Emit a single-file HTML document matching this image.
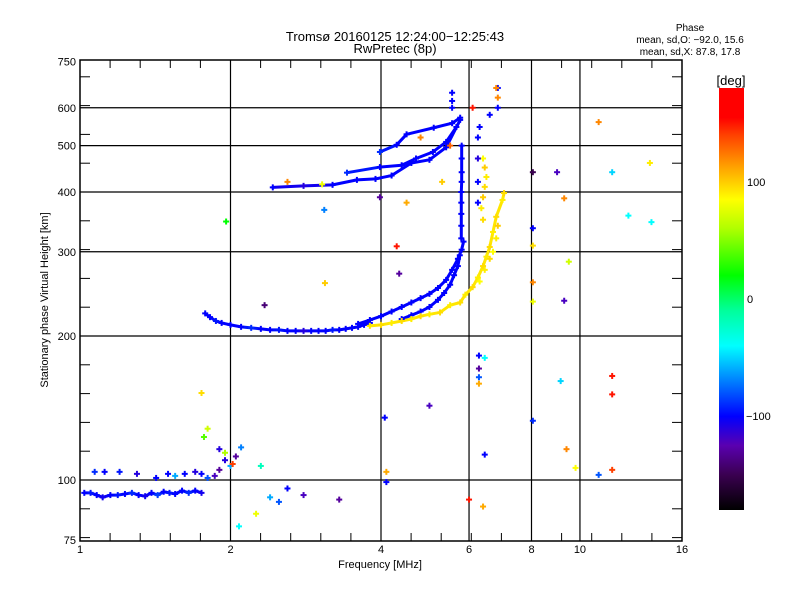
<!DOCTYPE html>
<html><head><meta charset="utf-8"><style>
body{margin:0;background:#fff}
svg{display:block;font-family:"Liberation Sans",sans-serif}
</style></head><body>
<svg id="c" width="800" height="600" viewBox="0 0 800 600">
<defs>
<linearGradient id="cb" x1="0" y1="1" x2="0" y2="0">
<stop offset="0" stop-color="#000000"/><stop offset="0.083" stop-color="#3a0050"/><stop offset="0.153" stop-color="#5a00b0"/>
<stop offset="0.222" stop-color="#0000ff"/><stop offset="0.306" stop-color="#0080ff"/><stop offset="0.389" stop-color="#00ffff"/>
<stop offset="0.472" stop-color="#00ff9c"/><stop offset="0.556" stop-color="#00ff00"/><stop offset="0.667" stop-color="#b0ff00"/>
<stop offset="0.736" stop-color="#ffff00"/><stop offset="0.806" stop-color="#ffaa00"/><stop offset="0.889" stop-color="#ff4000"/>
<stop offset="0.93" stop-color="#ff0000"/><stop offset="1" stop-color="#ff0000"/>
</linearGradient></defs>
<text x="395" y="41" font-size="13" text-anchor="middle">Tromsø 20160125 12:24:00−12:25:43</text>
<text x="395" y="53" font-size="13" text-anchor="middle">RwPretec (8p)</text>
<text x="690" y="31" font-size="10" text-anchor="middle">Phase</text>
<text x="690" y="43" font-size="10" text-anchor="middle">mean, sd,O: −92.0, 15.6</text>
<text x="690" y="55" font-size="10" text-anchor="middle">mean, sd,X:  87.8, 17.8</text>
<g id="grid"></g>
<g id="marks"></g>
<rect x="80" y="60" width="602" height="481" fill="none" stroke="#000" stroke-width="1.5"/>
<g id="ticks"></g>
<text x="380" y="568" font-size="11" text-anchor="middle">Frequency [MHz]</text>
<text transform="translate(48,300) rotate(-90)" font-size="11" text-anchor="middle">Stationary phase Virtual Height [km]</text>
<rect x="719" y="88" width="25" height="422" fill="url(#cb)"/>
<text x="731" y="85" font-size="13" text-anchor="middle">[deg]</text>
<g id="cbt"></g>
</svg>
<script>
const xTicks=[1,2,4,6,8,10,16];
const xGrid=[2,4,6,8,10];
const yTicks=[75,100,200,300,400,500,600,750];
const yGrid=[100,200,300,400,500,600];
const cbTicks=[100,0,-100];
const eLayer=[[1.02,94,-100],[1.05,94,-95],[1.08,93,-100],[1.11,92,-105],[1.15,93,-100],[1.19,93,-95],[1.23,93.5,-100],[1.27,94,-90],[1.31,93,-100],[1.35,92.5,-105],[1.39,94,-100],[1.43,93,-85],[1.47,94.5,-100],[1.51,94,-95],[1.55,93.5,-100],[1.6,95,-100],[1.65,94,-90],[1.7,95,-100],[1.75,94,-105]];
const eUpper=[[1.07,104,-90],[1.12,104,-100],[1.2,104,-95],[1.3,103,-110],[1.42,101,-100],[1.5,103,-100],[1.55,102,-60],[1.62,103,-100],[1.7,104,-110],[1.75,103,-100],[1.8,101,-80],[1.86,102,-120],[1.9,105,-130],[1.95,110,-110],[2.0,107,-60]];
const fLow=[[1.78,223,-100],[1.82,219,-100],[1.87,215,-95],[1.92,213,-100],[2.0,211,-100],[2.1,209,-100],[2.2,208,-90],[2.3,207,-100],[2.4,206,-100],[2.5,206,-95],[2.6,205,-100],[2.7,205,-100],[2.8,205,-110],[2.9,205,-100],[3.0,205,-100],[3.1,205,-100],[3.2,206,-95],[3.3,206,-100],[3.4,207,-100],[3.5,208,-100],[3.6,209,-100],[3.7,211,-100],[3.8,213,-100]];
const fO1=[[3.6,212,-100],[3.8,216,-100],[4.0,220,-100],[4.2,225,-100],[4.4,230,-100],[4.6,235,-100],[4.8,240,-100],[5.0,245,-100],[5.2,252,-100],[5.4,262,-100],[5.55,275,-100],[5.7,290,-100],[5.8,303,-100],[5.85,315,-100]];
const fO2=[[4.4,217,-100],[4.6,221,-100],[4.8,225,-100],[5.0,230,-100],[5.2,238,-100],[5.35,246,-100],[5.5,256,-100],[5.6,268,-100],[5.7,280,-100],[5.75,295,-100]];
const fVert=[[5.79,320,-100],[5.79,340,-100],[5.79,360,-100],[5.79,380,-100],[5.79,400,-100],[5.8,420,-100],[5.8,440,-100],[5.8,470,-100],[5.8,500,-100]];
const fX=[[3.8,210,90],[4.0,211,95],[4.2,213,90],[4.4,215,95],[4.6,217,90],[4.8,220,95],[5.0,222,90],[5.25,224,95],[5.5,232,90],[5.76,235,95],[5.9,244,90],[6.1,253,95],[6.25,265,90],[6.4,280,95],[6.5,293,90],[6.6,307,95],[6.7,330,90],[6.8,355,95],[7.0,385,90],[7.05,398,95]];
const fX2=[[6.3,260,85],[6.45,275,90],[6.6,290,95],[6.7,300,85],[6.8,320,90],[6.85,340,100],[6.4,350,95],[6.35,370,90],[6.4,390,100],[6.45,410,95],[6.5,430,90],[6.45,450,100],[6.4,470,85]];
const u1=[[2.43,409,-100],[2.8,412,-110],[3.2,414,-100],[3.58,424,-100],[3.9,426,-100],[4.2,433,-100],[4.6,460,-100],[5.0,467,-100],[5.4,496,-100],[5.76,566,-100]];
const u2=[[3.42,439,-90],[3.98,451,-100],[4.4,455,-100],[4.7,470,-100],[5.08,485,-100],[5.4,509,-100],[5.66,547,-100]];
const u3=[[3.98,485,-90],[4.3,502,-100],[4.5,528,-100],[5.1,545,-100],[5.55,557,-100],[5.76,572,-100]];
const uVert=[[5.55,600,-100],[5.55,620,-100],[5.55,645,-100],[6.25,380,-100],[6.25,420,-100],[6.25,470,-110],[6.25,520,-100],[6.3,547,-100],[6.85,600,-100],[6.85,630,120],[6.85,660,-100]];
const scatter=[[1.75,152,95],[1.8,128,70],[1.77,123,40],[1.9,116,-110],[1.95,114,60],[2.05,112,-130],[2.1,117,-70],[2.02,108,140],[2.3,107,-20],[2.6,96,-100],[2.8,93,-120],[3.3,91,-130],[2.25,85,80],[2.08,80,-40],[2.4,92,-60],[2.5,90,-80],
[3.08,367,-70],[1.96,347,20],[3.09,258,100],[3.98,390,-130],[4.3,308,150],[4.35,270,-130],[2.34,232,-140],[4.07,135,-100],[5.0,143,-120],[4.1,104,110],[4.1,99,-100],
[6.0,91,150],[6.4,88,110],[6.28,182,-100],[6.45,180,-40],[6.28,171,-130],[6.28,164,-80],[6.28,159,110],[8.05,336,-100],[8.05,309,95],[8.05,259,120],[8.05,236,80],[9.3,237,-120],[9.5,286,70],[12.5,357,-40],[13.9,346,-40],[8.05,133,-90],[9.15,161,-50],[11.6,165,150],[11.6,151,150],[9.4,116,120],[9.8,106,85],[10.9,102.5,-80],[11.6,105,140],[6.45,113,-100],
[8.05,440,-150],[9.0,440,-120],[9.3,388,120],[10.9,560,120],[11.6,440,-50],[13.8,460,90],[6.8,660,120],[2.6,420,120],[3.05,415,80],[4.5,380,110],[5.3,420,100],[5.5,500,130],[4.8,520,120],[6.1,600,150],[6.6,580,-100]];
const traces=[eLayer,eUpper,fLow,fO1,fO2,fVert,fX,fX2,u1,u2,u3,uVert];
const lineTraces=[eLayer,fLow,fO1,fO2,fVert,fX,u1,u2,u3];

const X0=80,X1=682,Y0=541,Y1=60;
function xs(f){return X0+Math.log2(f)/4*(X1-X0);}
function ys(h){return 480-Math.log2(h/100)*144;}
const stops=[[-180,[0,0,0]],[-150,[58,0,80]],[-125,[90,0,176]],[-100,[0,0,255]],[-70,[0,128,255]],[-40,[0,255,255]],[-10,[0,255,156]],[20,[0,255,0]],[60,[176,255,0]],[85,[255,255,0]],[110,[255,170,0]],[140,[255,64,0]],[155,[255,0,0]],[180,[255,0,0]]];
function col(p){for(let i=1;i<stops.length;i++){if(p<=stops[i][0]){const a=stops[i-1],b=stops[i],t=(p-a[0])/(b[0]-a[0]);return 'rgb('+a[1].map((v,k)=>Math.round(v+(b[1][k]-v)*t)).join(',')+')';}}return 'rgb(255,0,0)';}
const NS='http://www.w3.org/2000/svg';
function mk(tag,at,parent){const e=document.createElementNS(NS,tag);for(const k in at)e.setAttribute(k,at[k]);parent.appendChild(e);return e;}
const grid=document.getElementById('grid'),ticks=document.getElementById('ticks'),marks=document.getElementById('marks'),cbt=document.getElementById('cbt');
xGrid.forEach(f=>{const l=mk('line',{x1:xs(f),x2:xs(f),y1:Y1,y2:Y0,stroke:'#000','stroke-width':1.2},grid);

});
yGrid.forEach(h=>{const l=mk('line',{x1:X0,x2:X1,y1:ys(h),y2:ys(h),stroke:'#000','stroke-width':1.2},grid);

});
for(let k=0;k<=20;k++){const x=X0+k*(X1-X0)/20;const len=k%5==0?14:8;
mk('line',{x1:x,x2:x,y1:Y0,y2:Y0-len,stroke:'#000'},ticks);mk('line',{x1:x,x2:x,y1:Y1,y2:Y1+len,stroke:'#000'},ticks);}
for(let k=-2;k<=15;k++){const y=480-k*144/5;if(y<Y1||y>Y0)continue;
mk('line',{x1:X0,x2:X0+10,y1:y,y2:y,stroke:'#000'},ticks);mk('line',{x1:X1,x2:X1-10,y1:y,y2:y,stroke:'#000'},ticks);}
xTicks.forEach(f=>{const t=mk('text',{x:xs(f),y:553,'font-size':11,'text-anchor':'middle'},ticks);t.textContent=f;

});
yTicks.forEach(h=>{const t=mk('text',{x:76,y:ys(h)+4,'font-size':11,'text-anchor':'end'},ticks);t.textContent=h;

});
cbTicks.forEach(p=>{const y=299-p*1.17;
const t=mk('text',{x:p<0?746:747,y:y+4,'font-size':11},cbt);t.textContent=p<0?'−'+(-p):p;

});
lineTraces.forEach(tr=>{for(let i=1;i<tr.length;i++){const a=tr[i-1],b=tr[i];
const l=mk('line',{x1:xs(a[0]),y1:ys(a[1]),x2:xs(b[0]),y2:ys(b[1]),stroke:col((a[2]+b[2])/2),'stroke-width':3,'stroke-linecap':'round'},marks);

}});
function plus(d){const x=xs(d[0]),y=ys(d[1]),c=col(d[2]);const g=mk('g',{fill:c},marks);


mk('rect',{x:x-3,y:y-1,width:6,height:2},g);mk('rect',{x:x-1,y:y-3,width:2,height:6},g);}
traces.forEach(tr=>tr.forEach(plus));
scatter.forEach(plus);
</script>
</body></html>
